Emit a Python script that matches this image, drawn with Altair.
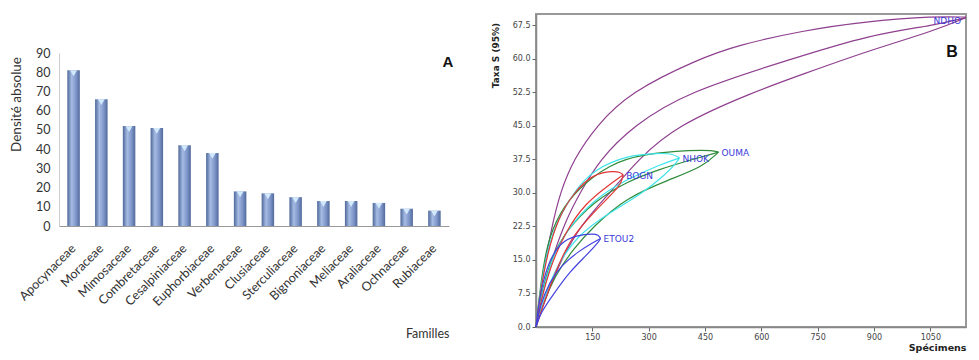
import altair as alt
import pandas as pd

# ---------------- Panel A data ----------------
FAMILIES = ["Apocynaceae", "Moraceae", "Mimosaceae", "Combretaceae", "Cesalpiniaceae",
            "Euphorbiaceae", "Verbenaceae", "Clusiaceae", "Sterculiaceae", "Bignoniaceae",
            "Meliaceae", "Araliaceae", "Ochnaceae", "Rubiaceae"]
DENSITY = [81, 66, 52, 51, 42, 38, 18, 17, 15, 13, 13, 12, 9, 8]
Y_TICKS_A = [0, 10, 20, 30, 40, 50, 60, 70, 80, 90]

# ---------------- Panel B data ----------------
SITES = ["NDHO", "OUMA", "NHOK", "BOGN", "ETOU2"]
SITE_COLORS = ["#8e3f8e", "#2f8c3c", "#3ee4ea", "#e23636", "#4343e0"]

NDHO_UPPER = [(0, 0), (12, 9), (42, 22.5), (64, 30), (100, 37.5), (161, 45), (249, 52.5),
              (435, 60), (532, 62.9), (709, 66.3), (886, 68.4), (1062, 69.5), (1145, 69.3)]
NDHO_MEAN = [(0, 0), (15, 7), (45, 16), (80, 24), (117, 30), (170, 37.5), (259, 45), (400, 52.5),
             (683, 60), (886, 65.3), (1062, 67.5), (1145, 69.2)]
NDHO_LOWER = [(0, 0), (20, 5), (60, 14), (120, 23), (197, 30), (272, 37.5), (373, 45), (577, 52.5),
              (709, 56.5), (886, 61.8), (1062, 66.3), (1145, 69.2)]

OUMA_UPPER = [(0, 0), (10, 8), (29, 19), (64, 25.6), (108, 30.7), (197, 36.5), (285, 38.7),
              (418, 39.6), (470, 39.5), (486, 39.1)]
OUMA_MEAN = [(0, 0), (10, 6), (40, 15.5), (80, 21.5), (153, 28), (241, 32.5), (329, 35.3),
             (418, 37.5), (486, 39.1)]
OUMA_LOWER = [(0, 0), (12, 4), (50, 11.5), (100, 17.5), (153, 22.5), (241, 29), (356, 33),
              (444, 35.8), (486, 39.1)]

NHOK_UPPER = [(0, 0), (10, 7.5), (30, 17.5), (60, 24.5), (108, 31), (153, 35.1), (241, 38.4),
              (330, 38.9), (365, 38.7), (382, 37.8)]
NHOK_MEAN = [(0, 0), (12, 6), (40, 15), (80, 21.5), (153, 28.5), (241, 33), (330, 36.3), (382, 37.8)]
NHOK_LOWER = [(0, 0), (15, 4.5), (47, 12.5), (108, 20.5), (197, 25.6), (285, 30), (347, 34.3),
              (372, 36.5), (382, 37.8)]

BOGN_UPPER = [(0, 0), (10, 7), (30, 16.5), (60, 24.5), (100, 30), (153, 34.3), (206, 34.9),
              (225, 34.6), (232, 34.0)]
BOGN_MEAN = [(0, 0), (12, 5.5), (40, 14), (80, 21.5), (130, 27.5), (190, 31.5), (232, 34.0)]
BOGN_LOWER = [(0, 0), (15, 4), (50, 12), (91, 19.8), (153, 25.6), (214, 30.7), (228, 32.5), (232, 34.0)]

ETOU2_UPPER = [(0, 0), (8, 6), (29, 13.9), (64, 19.0), (108, 20.5), (153, 20.9), (166, 20.6), (172, 19.8)]
ETOU2_MEAN = [(0, 0), (10, 4.5), (35, 10), (70, 14), (115, 17), (150, 18.8), (172, 19.8)]
ETOU2_LOWER = [(0, 0), (11, 3.0), (47, 7.4), (91, 12.5), (135, 16.1), (165, 18.8), (172, 19.8)]

X_TICKS_B = [150, 300, 450, 600, 750, 900, 1050]
Y_TICKS_B = [0, 7.5, 15, 22.5, 30, 37.5, 45, 52.5, 60, 67.5]

# ---------------- Panel A ----------------
bar_df = pd.DataFrame({"family": FAMILIES, "value": DENSITY})

grad = alt.Gradient(
    gradient="linear",
    stops=[alt.GradientStop(color="#4d6799", offset=0),
           alt.GradientStop(color="#a6bce4", offset=0.35),
           alt.GradientStop(color="#7d95c8", offset=0.7),
           alt.GradientStop(color="#52699b", offset=1)],
    x1=0, x2=1, y1=0, y2=0)

xA = alt.X("family:N", sort=FAMILIES, title="Familles",
           scale=alt.Scale(paddingInner=0.55, paddingOuter=0.3),
           axis=alt.Axis(labelAngle=-45, labelAlign="right", labelBaseline="middle",
                         labelFontSize=12.5, labelFont="Lato", labelColor="#333",
                         labelPadding=20, ticks=False, domainColor="#999", domainWidth=1.2,
                         titleX=390, titleY=107, titleAlign="right", titleBaseline="middle",
                         titleFontSize=12.5, titleFont="Lato", titleFontWeight="normal",
                         titleColor="#333"))
yA = alt.Y("value:Q", title="Densité absolue",
           scale=alt.Scale(domain=[0, 90], nice=False),
           axis=alt.Axis(values=Y_TICKS_A, tickCount=20, ticks=False, grid=False, domainColor="#ccc",
                         labelPadding=9, labelFontSize=12.5, labelFont="Lato", labelColor="#333",
                         titleX=-43, titleY=51, titleAngle=270, titleAlign="center",
                         titleBaseline="middle", titleFontSize=13.5, titleFont="Lato",
                         titleFontWeight="normal", titleColor="#333"))

bars = alt.Chart(bar_df).mark_bar(color=grad).encode(x=xA, y=yA)
caps = alt.Chart(bar_df).mark_point(shape="triangle-down", filled=True, color="#d3e9fc",
                                    size=45, opacity=1, yOffset=3).encode(x=xA, y=yA)
labA = alt.Chart(pd.DataFrame({"t": ["A"]})).mark_text(
    fontSize=15, fontWeight="bold", font="Liberation Sans", color="#111").encode(
    text="t:N", x=alt.value(389), y=alt.value(9))

panelA = alt.layer(bars, caps, labA).properties(
    width=390, height=173, view=alt.ViewBackground(stroke="transparent"))

spacer = alt.Chart(pd.DataFrame({"s": [0]})).mark_point(opacity=0).encode(
    x=alt.value(0), y=alt.value(0)).properties(
    width=390, height=31, view=alt.ViewBackground(stroke="transparent"))

leftCol = alt.vconcat(spacer, panelA, spacing=0)

# ---------------- Panel B ----------------
rows = []
curves = {
    "NDHO": [NDHO_UPPER, NDHO_MEAN, NDHO_LOWER],
    "OUMA": [OUMA_UPPER, OUMA_MEAN, OUMA_LOWER],
    "NHOK": [NHOK_UPPER, NHOK_MEAN, NHOK_LOWER],
    "BOGN": [BOGN_UPPER, BOGN_MEAN, BOGN_LOWER],
    "ETOU2": [ETOU2_UPPER, ETOU2_MEAN, ETOU2_LOWER],
}
for site, lst in curves.items():
    for k, pts in enumerate(lst):
        for i, (x, y) in enumerate(pts):
            rows.append({"site": site, "curve": f"{site}_{k}", "i": i, "x": x, "y": y})
curve_df = pd.DataFrame(rows)

WB, HB = 430, 313

xB = alt.X("x:Q", title="Spécimens", scale=alt.Scale(domain=[0, 1145], nice=False, zero=True),
           axis=alt.Axis(values=X_TICKS_B, tickCount=20, format="d", grid=False, tickSize=4,
                         tickColor="#666", domainColor="#888", domainWidth=1.5, labelFontSize=8,
                         labelOverlap=False, labelFont="DejaVu Sans", labelColor="#444",
                         labelPadding=2, titleX=WB, titleY=20, titleAlign="right",
                         titleBaseline="middle", titleFontSize=9.5, titleFont="DejaVu Sans",
                         titleFontWeight="bold", titleColor="#222"))
yB = alt.Y("y:Q", title="Taxa S (95%)", scale=alt.Scale(domain=[0, 70], nice=False),
           axis=alt.Axis(values=Y_TICKS_B, tickCount=20, format=".1f", grid=False, tickSize=4,
                         tickColor="#666", domainColor="#888", domainWidth=1.5, labelFontSize=8,
                         labelOverlap=False, labelFont="DejaVu Sans", labelColor="#444",
                         labelPadding=2, titleX=-41, titleY=41, titleAngle=270,
                         titleAlign="center", titleBaseline="middle", titleFontSize=9,
                         titleFont="DejaVu Sans", titleFontWeight="bold", titleColor="#222"))

lines = alt.Chart(curve_df).mark_line(strokeWidth=1.2, interpolate="basis").encode(
    x=xB, y=yB,
    color=alt.Color("site:N", scale=alt.Scale(domain=SITES, range=SITE_COLORS), legend=None),
    detail="curve:N", order="i:Q")

tips = {s: curves[s][1][-1] for s in SITES}
lab_right = pd.DataFrame({"site": ["NDHO"], "x": [tips["NDHO"][0]], "y": [tips["NDHO"][1]]})
lab_left = pd.DataFrame({"site": SITES[1:], "x": [tips[s][0] for s in SITES[1:]],
                         "y": [tips[s][1] for s in SITES[1:]]})
textR = alt.Chart(lab_right).mark_text(align="right", dx=-5, dy=3, fontSize=9,
                                       font="DejaVu Sans", color="#3a3ad8").encode(
    x="x:Q", y="y:Q", text="site:N")
textL = alt.Chart(lab_left).mark_text(align="left", dx=3, dy=1, fontSize=9,
                                      font="DejaVu Sans", color="#3a3ad8").encode(
    x="x:Q", y="y:Q", text="site:N")
labB = alt.Chart(pd.DataFrame({"t": ["B"]})).mark_text(
    fontSize=16, fontWeight="bold", font="Liberation Sans", color="#111").encode(
    text="t:N", x=alt.value(WB - 14), y=alt.value(38))

panelB = alt.layer(lines, textR, textL, labB).properties(
    width=WB, height=HB, view=alt.ViewBackground(stroke="#999", strokeWidth=2))

chart = alt.hconcat(leftCol, panelB, spacing=36).properties(
    padding={"left": 0, "top": 2, "right": 0, "bottom": 0}
).configure_view(stroke="transparent")

chart.save("out.html", embed_options={"renderer": "svg", "actions": False})
